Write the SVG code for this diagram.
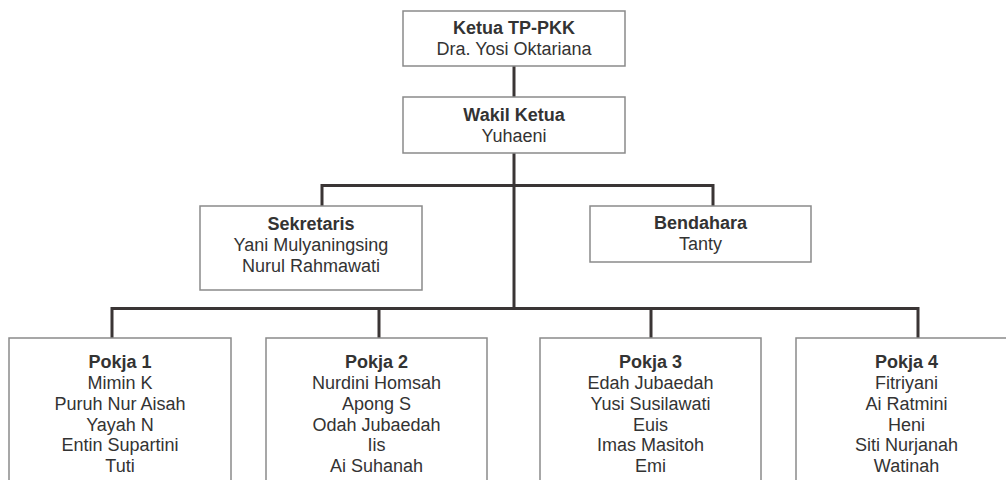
<svg xmlns="http://www.w3.org/2000/svg" width="1006" height="480" viewBox="0 0 1006 480">
<style>
.box{fill:#fff;stroke:#8a8a8a;stroke-width:1.5}
.ln{fill:none;stroke:#3a3535;stroke-width:3}
text{font-family:"Liberation Sans",Arial,sans-serif;font-size:18px;fill:#333;text-anchor:middle}
.b{font-weight:bold}
</style>
<rect width="1006" height="480" fill="#fff"/>
<g id="connectors">
<path class="ln" d="M514,66V97"/>
<path class="ln" d="M514,153V308"/>
<path class="ln" d="M322,206V185.5H713V206"/>
<path class="ln" d="M112,338V308.5H918V338"/>
<path class="ln" d="M379,308V338"/>
<path class="ln" d="M651,308V338"/>
</g>
<g id="ketua">
<rect class="box" x="403" y="11" width="222" height="55"/>
<text class="b" x="514" y="34">Ketua TP-PKK</text>
<text x="514" y="55">Dra. Yosi Oktariana</text>
</g>
<g id="wakil">
<rect class="box" x="403" y="97" width="222" height="56"/>
<text class="b" x="514" y="121">Wakil Ketua</text>
<text x="514" y="142">Yuhaeni</text>
</g>
<g id="sekretaris">
<rect class="box" x="200" y="206" width="222" height="84"/>
<text class="b" x="311" y="230">Sekretaris</text>
<text x="311" y="251">Yani Mulyaningsing</text>
<text x="311" y="272">Nurul Rahmawati</text>
</g>
<g id="bendahara">
<rect class="box" x="590" y="206" width="221" height="56"/>
<text class="b" x="700.5" y="229">Bendahara</text>
<text x="700.5" y="250">Tanty</text>
</g>
<g id="pokja1">
<rect class="box" x="9" y="338" width="222" height="160"/>
<text class="b" x="120" y="368">Pokja 1</text>
<text x="120" y="389">Mimin K</text>
<text x="120" y="410">Puruh Nur Aisah</text>
<text x="120" y="431">Yayah N</text>
<text x="120" y="451">Entin Supartini</text>
<text x="120" y="472">Tuti</text>
</g>
<g id="pokja2">
<rect class="box" x="266" y="338" width="221" height="160"/>
<text class="b" x="376.5" y="368">Pokja 2</text>
<text x="376.5" y="389">Nurdini Homsah</text>
<text x="376.5" y="410">Apong S</text>
<text x="376.5" y="431">Odah Jubaedah</text>
<text x="376.5" y="451">Iis</text>
<text x="376.5" y="472">Ai Suhanah</text>
</g>
<g id="pokja3">
<rect class="box" x="540" y="338" width="221" height="160"/>
<text class="b" x="650.5" y="368">Pokja 3</text>
<text x="650.5" y="389">Edah Jubaedah</text>
<text x="650.5" y="410">Yusi Susilawati</text>
<text x="650.5" y="431">Euis</text>
<text x="650.5" y="451">Imas Masitoh</text>
<text x="650.5" y="472">Emi</text>
</g>
<g id="pokja4">
<rect class="box" x="796" y="338" width="221" height="160"/>
<text class="b" x="906.5" y="368">Pokja 4</text>
<text x="906.5" y="389">Fitriyani</text>
<text x="906.5" y="410">Ai Ratmini</text>
<text x="906.5" y="431">Heni</text>
<text x="906.5" y="451">Siti Nurjanah</text>
<text x="906.5" y="472">Watinah</text>
</g>
</svg>
